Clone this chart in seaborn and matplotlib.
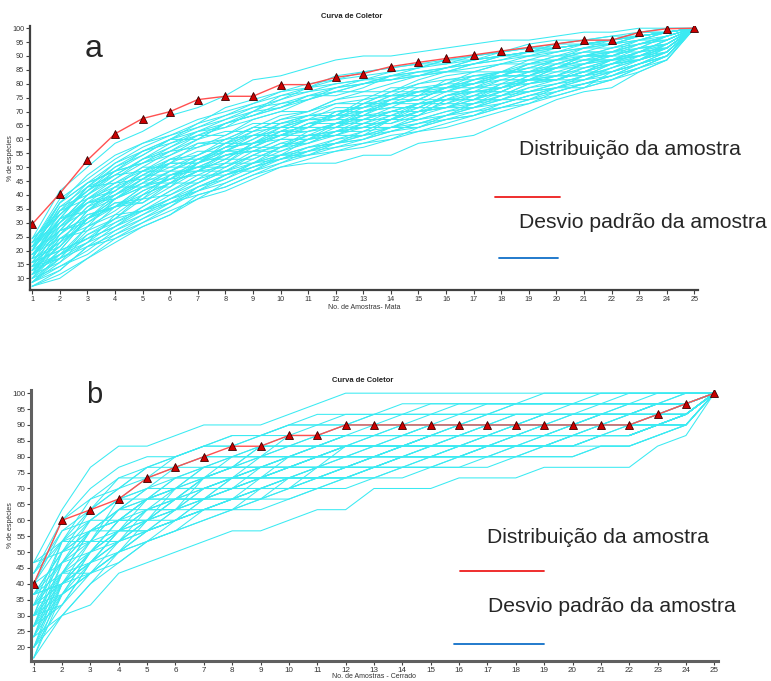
# Curva de coletor - Mata (a) e Cerrado (b)
import matplotlib
matplotlib.use('Agg')
import matplotlib.pyplot as plt
from matplotlib.lines import Line2D
import pandas as pd
import seaborn as sns

amostras = list(range(1, 26))
N_MATA = 70      # total de especies (mata)
N_CERRADO = 30   # total de especies (cerrado)

# curva da amostra (% de especies), linha vermelha
mata_amostra = [29.5, 40.5, 52.5, 62, 67.5, 70, 74.3, 75.5, 75.5, 79.7, 79.7, 82.3, 83.7,
                86.2, 87.7, 89.1, 90.4, 91.8, 93.1, 94.4, 95.7, 95.7, 98.5, 99.8, 100]
cerrado_amostra = [40, 60, 63.3, 66.7, 73.3, 76.7, 80, 83.3, 83.3, 86.7, 86.7, 90, 90,
                   90, 90, 90, 90, 90, 90, 90, 90, 90, 93.3, 96.7, 100]

# aleatorizacoes (no. de especies acumuladas), linhas azul-claro
mata_curvas = [
    [5, 8, 12, 17, 20, 23, 28, 30, 33, 35, 36, 36, 38, 38, 41, 42, 43, 46, 49, 52, 54, 55, 59, 62, 70],
    [17, 29, 35, 41, 44, 48, 50, 53, 57, 58, 60, 62, 63, 63, 64, 65, 66, 67, 67, 68, 69, 69, 70, 70, 70],
    [11, 14, 22, 26, 27, 33, 35, 36, 41, 42, 42, 45, 48, 48, 50, 53, 54, 54, 57, 58, 58, 61, 62, 66, 70],
    [8, 17, 20, 27, 31, 31, 36, 40, 41, 44, 47, 47, 49, 52, 52, 55, 56, 59, 59, 60, 63, 63, 65, 66, 70],
    [14, 19, 26, 28, 32, 37, 37, 40, 44, 45, 45, 49, 50, 53, 54, 54, 57, 58, 60, 62, 62, 64, 66, 68, 70],
    [6, 11, 18, 21, 25, 29, 33, 33, 36, 40, 42, 43, 43, 47, 49, 50, 52, 52, 55, 57, 59, 59, 62, 64, 70],
    [12, 22, 24, 29, 34, 34, 38, 41, 41, 43, 46, 48, 51, 51, 52, 55, 56, 58, 58, 61, 63, 64, 64, 67, 70],
    [9, 15, 23, 25, 28, 33, 34, 37, 41, 43, 43, 44, 47, 49, 51, 51, 54, 55, 57, 57, 60, 62, 63, 65, 70],
    [16, 21, 28, 33, 34, 36, 41, 42, 45, 48, 49, 51, 51, 54, 56, 57, 57, 59, 62, 62, 64, 66, 67, 69, 70],
    [7, 14, 17, 22, 27, 28, 32, 36, 36, 39, 41, 44, 45, 45, 48, 50, 52, 54, 54, 56, 58, 61, 62, 64, 70],
    [13, 18, 25, 30, 30, 34, 37, 39, 43, 43, 46, 47, 47, 50, 53, 54, 54, 57, 59, 60, 62, 62, 64, 67, 70],
    [10, 20, 26, 27, 32, 35, 35, 38, 40, 44, 45, 45, 49, 50, 50, 53, 55, 56, 59, 59, 61, 63, 65, 66, 70],
    [15, 24, 27, 32, 36, 38, 42, 44, 44, 47, 49, 52, 53, 53, 56, 58, 59, 59, 61, 63, 64, 64, 67, 68, 70],
    [9, 12, 19, 25, 26, 30, 34, 35, 38, 38, 42, 43, 46, 46, 49, 50, 50, 53, 56, 57, 57, 60, 62, 65, 70],
    [12, 16, 24, 28, 33, 33, 36, 39, 42, 45, 45, 48, 49, 51, 51, 54, 56, 57, 57, 60, 62, 63, 63, 66, 70],
    [11, 19, 21, 25, 30, 33, 35, 35, 38, 41, 43, 43, 46, 48, 48, 52, 53, 53, 56, 58, 60, 61, 64, 65, 70],
    [14, 23, 30, 31, 35, 39, 40, 43, 46, 46, 48, 51, 52, 55, 55, 56, 59, 61, 61, 62, 65, 65, 67, 69, 70],
    [6, 13, 16, 23, 24, 27, 31, 34, 34, 38, 40, 41, 44, 47, 47, 49, 51, 52, 54, 55, 55, 59, 61, 63, 70],
    [13, 20, 24, 30, 33, 36, 36, 41, 43, 44, 47, 48, 48, 52, 54, 55, 55, 58, 60, 60, 63, 64, 65, 68, 70],
    [8, 18, 23, 25, 29, 32, 35, 38, 39, 42, 42, 46, 47, 47, 51, 52, 54, 54, 57, 59, 59, 62, 64, 65, 70],
    [10, 13, 20, 24, 29, 32, 33, 36, 40, 40, 43, 46, 46, 49, 51, 51, 53, 56, 56, 58, 61, 62, 62, 65, 70],
    [15, 21, 26, 29, 34, 38, 41, 41, 44, 47, 48, 48, 52, 53, 53, 57, 58, 58, 61, 63, 63, 65, 67, 67, 70],
    [7, 16, 21, 26, 26, 31, 34, 38, 39, 40, 44, 45, 45, 48, 51, 52, 52, 55, 57, 57, 59, 61, 64, 66, 70],
    [12, 15, 22, 28, 32, 32, 37, 40, 41, 45, 47, 47, 50, 51, 52, 55, 57, 58, 58, 61, 61, 64, 66, 67, 70],
    [16, 26, 31, 34, 38, 42, 42, 46, 48, 50, 53, 53, 55, 58, 58, 59, 61, 63, 64, 64, 66, 67, 68, 69, 70],
    [9, 17, 19, 22, 28, 31, 34, 34, 38, 41, 41, 44, 46, 46, 48, 52, 52, 54, 57, 58, 58, 60, 63, 64, 70],
    [11, 21, 27, 29, 33, 37, 38, 41, 45, 45, 47, 50, 50, 52, 55, 55, 57, 59, 59, 62, 63, 63, 65, 68, 70],
    [13, 17, 22, 27, 30, 30, 36, 38, 40, 43, 44, 46, 48, 49, 49, 53, 54, 55, 58, 58, 61, 62, 63, 66, 70],
    [8, 14, 22, 25, 30, 34, 34, 39, 40, 43, 46, 46, 48, 51, 52, 52, 55, 57, 57, 60, 61, 63, 65, 65, 70],
    [14, 25, 28, 32, 37, 39, 43, 43, 47, 49, 49, 52, 54, 54, 57, 59, 59, 61, 63, 63, 65, 66, 67, 69, 70],
    [10, 18, 25, 28, 31, 36, 36, 40, 43, 43, 45, 49, 49, 51, 54, 54, 56, 58, 58, 60, 62, 62, 64, 67, 70],
    [6, 9, 15, 20, 24, 26, 30, 33, 35, 38, 38, 41, 43, 45, 45, 48, 50, 52, 52, 55, 57, 59, 61, 63, 70],
    [12, 22, 26, 31, 32, 36, 39, 39, 42, 46, 47, 47, 51, 52, 54, 56, 56, 58, 61, 61, 63, 65, 66, 68, 70],
    [15, 20, 27, 30, 35, 35, 38, 42, 43, 46, 48, 48, 51, 54, 54, 56, 58, 59, 60, 62, 64, 64, 66, 68, 70],
    [7, 12, 20, 23, 28, 31, 31, 35, 39, 39, 42, 44, 45, 47, 50, 50, 53, 55, 56, 57, 59, 61, 62, 64, 70],
    [11, 16, 24, 27, 31, 34, 37, 37, 41, 44, 44, 46, 49, 50, 50, 53, 55, 55, 58, 60, 60, 62, 65, 66, 70],
    [17, 23, 29, 34, 36, 40, 44, 45, 47, 49, 52, 54, 54, 56, 58, 59, 60, 61, 62, 64, 65, 66, 68, 69, 70],
    [9, 19, 22, 27, 30, 32, 36, 39, 39, 42, 45, 45, 47, 49, 51, 52, 52, 56, 57, 57, 59, 62, 63, 65, 70],
    [13, 19, 27, 31, 34, 37, 40, 42, 45, 45, 48, 49, 50, 53, 53, 55, 58, 59, 59, 61, 63, 63, 66, 67, 70],
    [10, 15, 22, 25, 27, 31, 34, 37, 37, 40, 43, 44, 44, 47, 49, 51, 51, 54, 57, 57, 59, 61, 63, 65, 70],
    [6, 10, 14, 19, 23, 27, 30, 32, 35, 37, 39, 40, 42, 44, 46, 47, 49, 50, 52, 54, 56, 58, 60, 63, 70],
    [8, 11, 16, 19, 22, 25, 29, 31, 34, 36, 38, 40, 41, 42, 44, 46, 48, 50, 51, 53, 55, 57, 60, 62, 70],
    [5, 9, 15, 18, 21, 24, 27, 31, 34, 37, 38, 39, 41, 43, 44, 45, 47, 49, 51, 54, 56, 57, 59, 62, 70],
    [7, 10, 13, 18, 22, 26, 28, 30, 33, 36, 39, 41, 42, 44, 46, 48, 49, 51, 53, 54, 56, 58, 61, 63, 70],
    [9, 13, 17, 20, 23, 26, 29, 32, 36, 38, 39, 42, 44, 45, 47, 49, 50, 51, 53, 55, 57, 58, 60, 63, 70],
    [6, 12, 15, 17, 21, 25, 30, 33, 35, 37, 40, 42, 43, 44, 45, 47, 48, 50, 52, 53, 55, 57, 60, 63, 70],
    [10, 12, 16, 21, 24, 28, 31, 34, 36, 37, 39, 41, 43, 45, 47, 48, 50, 52, 54, 56, 57, 59, 61, 64, 70],
    [8, 13, 18, 22, 24, 27, 29, 33, 36, 38, 40, 41, 42, 45, 46, 48, 51, 53, 54, 55, 58, 60, 62, 64, 70],
    [5, 7, 12, 16, 20, 23, 27, 29, 32, 35, 37, 39, 40, 42, 45, 47, 48, 51, 53, 55, 56, 58, 61, 63, 70],
    [11, 14, 17, 20, 25, 29, 32, 34, 37, 40, 41, 43, 45, 47, 49, 50, 51, 53, 55, 56, 58, 59, 61, 64, 70],
    [16, 27, 32, 37, 41, 44, 47, 49, 51, 53, 55, 57, 58, 59, 60, 62, 63, 64, 65, 66, 66, 67, 68, 69, 70],
    [15, 26, 33, 38, 41, 43, 45, 48, 51, 54, 56, 57, 59, 60, 61, 62, 63, 64, 65, 65, 66, 67, 69, 70, 70],
    [17, 24, 31, 36, 40, 43, 46, 50, 52, 54, 55, 58, 59, 60, 61, 61, 63, 64, 66, 67, 67, 68, 69, 69, 70],
    [14, 25, 30, 36, 39, 42, 46, 48, 50, 52, 55, 56, 57, 58, 60, 61, 62, 63, 64, 66, 67, 68, 68, 69, 70],
    [13, 22, 30, 35, 39, 41, 44, 47, 50, 51, 52, 54, 56, 58, 59, 60, 62, 63, 63, 65, 66, 66, 68, 69, 70],
    [16, 23, 29, 35, 38, 42, 45, 47, 49, 53, 54, 56, 57, 59, 60, 62, 62, 64, 65, 65, 66, 67, 68, 69, 70],
    [12, 24, 29, 33, 37, 41, 43, 45, 49, 52, 54, 55, 57, 57, 58, 60, 61, 62, 64, 65, 66, 67, 68, 69, 70],
    [15, 22, 30, 33, 37, 40, 43, 46, 48, 51, 53, 54, 56, 57, 59, 59, 61, 63, 64, 65, 66, 66, 68, 69, 70],
    [14, 26, 31, 34, 36, 39, 42, 46, 49, 50, 52, 55, 56, 58, 59, 60, 61, 62, 63, 64, 65, 67, 68, 69, 70],
    [13, 21, 28, 34, 39, 42, 44, 46, 48, 50, 53, 55, 56, 57, 58, 60, 62, 63, 64, 66, 67, 67, 69, 69, 70],
]

cerrado_curvas = [
    [5, 9, 10, 13, 14, 15, 16, 17, 17, 18, 19, 19, 21, 21, 21, 22, 22, 22, 23, 23, 23, 23, 25, 26, 30],
    [14, 19, 23, 25, 25, 26, 27, 27, 27, 28, 29, 30, 30, 30, 30, 30, 30, 30, 30, 30, 30, 30, 30, 30, 30],
    [9, 12, 16, 17, 20, 20, 21, 22, 22, 24, 24, 24, 25, 25, 26, 26, 26, 27, 27, 27, 28, 28, 28, 29, 30],
    [7, 14, 15, 18, 18, 19, 22, 22, 23, 23, 23, 25, 25, 26, 26, 26, 27, 27, 27, 27, 27, 28, 28, 28, 30],
    [11, 13, 17, 17, 19, 21, 21, 22, 24, 24, 25, 25, 25, 25, 26, 27, 27, 27, 28, 28, 28, 28, 29, 29, 30],
    [6, 10, 14, 16, 17, 19, 20, 20, 20, 22, 23, 23, 24, 24, 24, 25, 25, 26, 26, 26, 27, 27, 27, 28, 30],
    [10, 16, 16, 19, 21, 22, 22, 23, 25, 25, 25, 26, 27, 27, 27, 27, 28, 28, 28, 29, 29, 29, 29, 29, 30],
    [8, 11, 14, 17, 17, 18, 20, 21, 21, 21, 22, 22, 23, 24, 24, 24, 25, 25, 26, 26, 26, 26, 27, 28, 30],
    [12, 14, 18, 20, 20, 21, 23, 24, 24, 25, 26, 26, 26, 26, 27, 28, 28, 28, 28, 28, 28, 29, 29, 30, 30],
    [7, 12, 13, 15, 18, 18, 19, 20, 22, 22, 22, 23, 23, 24, 25, 25, 25, 25, 25, 26, 26, 26, 27, 27, 30],
    [9, 15, 17, 18, 20, 22, 23, 23, 23, 24, 25, 25, 26, 26, 26, 27, 27, 28, 28, 28, 29, 29, 29, 29, 30],
    [11, 12, 15, 18, 19, 19, 21, 22, 22, 23, 23, 24, 24, 25, 25, 25, 26, 26, 26, 27, 27, 27, 28, 28, 30],
    [6, 13, 16, 16, 18, 20, 20, 21, 23, 23, 24, 24, 24, 25, 25, 26, 26, 26, 27, 27, 27, 28, 28, 28, 30],
    [13, 17, 19, 21, 23, 23, 24, 24, 24, 26, 26, 27, 27, 28, 28, 28, 29, 29, 29, 29, 29, 29, 29, 29, 30],
    [8, 10, 13, 14, 16, 17, 18, 19, 20, 20, 21, 22, 22, 23, 23, 23, 24, 24, 24, 24, 25, 25, 26, 27, 30],
    [10, 14, 17, 19, 19, 20, 22, 23, 23, 24, 24, 25, 25, 25, 26, 26, 26, 27, 27, 27, 27, 27, 28, 28, 30],
    [7, 13, 14, 17, 18, 21, 21, 21, 22, 23, 23, 23, 24, 24, 24, 25, 25, 25, 26, 26, 26, 27, 27, 28, 30],
    [12, 16, 17, 19, 21, 21, 22, 24, 24, 25, 25, 26, 26, 27, 27, 27, 27, 27, 28, 28, 28, 28, 29, 29, 30],
    [9, 11, 15, 17, 17, 18, 19, 20, 21, 22, 22, 22, 23, 23, 24, 24, 24, 25, 25, 25, 26, 26, 27, 27, 30],
    [5, 12, 14, 15, 17, 18, 20, 20, 21, 21, 23, 23, 23, 24, 24, 24, 25, 25, 25, 26, 26, 26, 27, 28, 30],
    [11, 15, 18, 20, 22, 22, 23, 23, 25, 25, 26, 26, 26, 26, 27, 27, 27, 28, 28, 28, 28, 29, 29, 29, 30],
    [8, 14, 17, 18, 20, 21, 21, 22, 23, 23, 24, 25, 25, 25, 25, 26, 26, 26, 27, 27, 27, 28, 28, 28, 30],
    [10, 12, 14, 16, 18, 19, 20, 21, 21, 22, 22, 23, 24, 24, 24, 25, 25, 25, 25, 26, 26, 26, 27, 28, 30],
    [13, 18, 20, 22, 22, 24, 25, 25, 26, 26, 27, 27, 27, 27, 28, 28, 28, 29, 29, 29, 29, 30, 30, 30, 30],
    [6, 9, 12, 15, 16, 17, 19, 19, 20, 21, 21, 22, 22, 23, 23, 24, 24, 24, 25, 25, 25, 25, 26, 27, 30],
    [9, 13, 15, 17, 19, 20, 21, 21, 22, 23, 24, 24, 25, 25, 25, 25, 26, 26, 26, 27, 27, 27, 28, 29, 30],
    [11, 14, 16, 20, 21, 21, 22, 22, 23, 24, 24, 25, 25, 26, 26, 27, 27, 27, 27, 28, 28, 28, 28, 29, 30],
    [7, 11, 15, 16, 18, 20, 20, 22, 22, 22, 23, 24, 24, 24, 25, 25, 26, 26, 26, 26, 27, 27, 28, 28, 30],
    [12, 17, 18, 20, 21, 23, 23, 24, 25, 25, 25, 26, 26, 27, 27, 27, 28, 28, 28, 28, 28, 28, 29, 29, 30],
    [8, 13, 13, 16, 19, 19, 21, 21, 22, 23, 23, 23, 24, 25, 25, 25, 25, 26, 26, 26, 27, 27, 27, 28, 30],
    [10, 13, 17, 18, 18, 20, 22, 23, 23, 23, 24, 24, 24, 25, 26, 26, 26, 26, 27, 27, 28, 28, 28, 28, 30],
    [14, 16, 19, 21, 22, 23, 24, 24, 25, 26, 26, 27, 28, 28, 28, 28, 28, 29, 29, 29, 29, 29, 29, 30, 30],
    [6, 11, 13, 15, 17, 19, 19, 20, 21, 22, 22, 23, 23, 23, 24, 24, 25, 25, 25, 25, 26, 26, 27, 27, 30],
    [9, 16, 18, 18, 20, 21, 23, 23, 24, 24, 25, 25, 26, 26, 26, 26, 27, 27, 27, 28, 28, 28, 28, 29, 30],
    [11, 12, 14, 17, 19, 20, 20, 22, 22, 23, 24, 24, 24, 25, 25, 26, 26, 26, 26, 27, 27, 27, 28, 28, 30],
    [8, 15, 16, 19, 20, 20, 22, 23, 23, 23, 24, 25, 25, 25, 26, 26, 27, 27, 27, 27, 28, 28, 29, 29, 30],
    [14, 15, 19, 22, 23, 24, 25, 26, 26, 27, 27, 28, 28, 28, 29, 29, 29, 29, 29, 29, 30, 30, 30, 30, 30],
    [10, 11, 13, 15, 16, 17, 18, 19, 19, 20, 21, 21, 22, 22, 23, 23, 23, 24, 24, 24, 25, 25, 26, 27, 30],
    [7, 9, 12, 14, 16, 18, 19, 20, 20, 21, 22, 22, 23, 23, 23, 24, 24, 24, 25, 25, 26, 26, 27, 27, 30],
    [12, 18, 21, 23, 24, 24, 25, 26, 26, 27, 28, 28, 28, 29, 29, 29, 29, 29, 30, 30, 30, 30, 30, 30, 30],
    [9, 10, 14, 16, 17, 18, 19, 20, 21, 21, 22, 23, 23, 24, 24, 24, 25, 25, 25, 25, 26, 26, 27, 28, 30],
    [5, 11, 13, 15, 17, 18, 19, 19, 21, 22, 22, 22, 23, 24, 24, 24, 24, 25, 25, 26, 26, 26, 27, 28, 30],
    [13, 16, 20, 21, 23, 24, 25, 25, 26, 27, 27, 27, 28, 28, 28, 29, 29, 29, 29, 29, 29, 29, 30, 30, 30],
    [8, 12, 15, 17, 18, 19, 20, 21, 22, 22, 23, 23, 24, 24, 25, 25, 25, 26, 26, 26, 26, 27, 27, 28, 30],
    [6, 12, 15, 18, 20, 22, 22, 23, 24, 24, 25, 26, 26, 26, 27, 27, 27, 27, 28, 28, 28, 28, 29, 29, 30],
    [11, 15, 17, 19, 20, 21, 21, 22, 23, 24, 24, 25, 25, 25, 26, 26, 26, 27, 27, 27, 28, 28, 28, 29, 30],
]


def para_df(curvas, total):
    linhas = []
    for i, c in enumerate(curvas):
        for x, v in zip(amostras, c):
            linhas.append({'amostra': x, 'pct': 100 * v / total, 'curva': i})
    return pd.DataFrame(linhas)


sns.set_style('ticks')
plt.rcParams['font.family'] = ['Liberation Sans', 'DejaVu Sans']

W, H = 771, 681
fig = plt.figure(figsize=(W / 100, H / 100), dpi=100)


def px(x, y):
    return x / W, 1 - y / H


def eixo(l, t, r, b):
    x0, y1 = px(l, t)
    x1, y0 = px(r, b)
    return fig.add_axes([x0, y0, x1 - x0, y1 - y0])


paineis = [
    dict(caixa=(30, 25.7, 697.7, 290), curvas=mata_curvas, total=N_MATA, amostra=mata_amostra,
         xlim=(0.92, 25.12), ylim=(5.8, 100.9), yticks=range(10, 101, 5), tam_tick=5.2,
         espinha=('#404040', 1.6), ylab_x=-0.024, xlab_y=-0.052,
         xlabel='No. de Amostras- Mata', titulo=(352, 17), letra='a', letra_pos=(85, 57), letra_tam=23,
         txt1=(519, 155), seg1=(495, 560, 197.5), txt2=(519, 228), seg2=(499, 558, 258.5)),
    dict(caixa=(31, 390, 717.7, 660.7), curvas=cerrado_curvas, total=N_CERRADO, amostra=cerrado_amostra,
         xlim=(0.905, 25.12), ylim=(15.8, 101), yticks=range(20, 101, 5), tam_tick=5.8,
         espinha=('#606060', 2.2), ylab_x=-0.025, xlab_y=-0.044,
         xlabel='No. de Amostras - Cerrado', titulo=(363, 381), letra='b', letra_pos=(86, 403), letra_tam=21,
         txt1=(487, 543), seg1=(460, 544, 571), txt2=(488, 612), seg2=(454, 544, 644)),
]

for p in paineis:
    ax = eixo(*p['caixa'])
    df = para_df(p['curvas'], p['total'])
    sns.lineplot(data=df, x='amostra', y='pct', units='curva', estimator=None,
                 color='#3aeaf2', linewidth=0.75, ax=ax, legend=False)
    sns.lineplot(x=amostras, y=p['amostra'], color='#ff5050', linewidth=1.0, marker='^',
                 markersize=5.5, markerfacecolor='#cc0000', markeredgecolor='#3a0000',
                 markeredgewidth=0.6, ax=ax)
    ax.set_xlim(*p['xlim'])
    ax.set_ylim(*p['ylim'])
    ax.set_xticks(amostras)
    ax.set_yticks(list(p['yticks']))
    ax.tick_params(labelsize=p['tam_tick'], length=3, width=0.8, color='#404040',
                   labelcolor='#333333', pad=1.2)
    for lado in ['top', 'right']:
        ax.spines[lado].set_visible(False)
    for lado in ['left', 'bottom']:
        ax.spines[lado].set_color(p['espinha'][0])
        ax.spines[lado].set_linewidth(p['espinha'][1])
    ax.set_xlabel(p['xlabel'], fontsize=5, color='#333333')
    ax.xaxis.set_label_coords(0.5, p['xlab_y'])
    ax.set_ylabel('% de espécies', fontsize=5, color='#333333')
    ax.yaxis.set_label_coords(p['ylab_x'], 0.5)

    fig.text(*px(*p['titulo']), 'Curva de Coletor', fontsize=5.5, fontweight='bold',
             ha='center', va='center', color='#222222')
    fig.text(*px(*p['letra_pos']), p['letra'], fontsize=p['letra_tam'], ha='left', va='baseline')
    fig.text(*px(*p['txt1']), 'Distribuição da amostra', fontsize=15.2, ha='left', va='baseline')
    fig.text(*px(*p['txt2']), 'Desvio padrão da amostra', fontsize=15.2, ha='left', va='baseline')
    x0, x1, y = p['seg1']
    fig.add_artist(Line2D([x0 / W, x1 / W], [1 - y / H, 1 - y / H], color='#ee1c1c', linewidth=1.3,
                          transform=fig.transFigure))
    x0, x1, y = p['seg2']
    fig.add_artist(Line2D([x0 / W, x1 / W], [1 - y / H, 1 - y / H], color='#1070c8', linewidth=1.3,
                          transform=fig.transFigure))

fig.savefig('out.png', dpi=100)
